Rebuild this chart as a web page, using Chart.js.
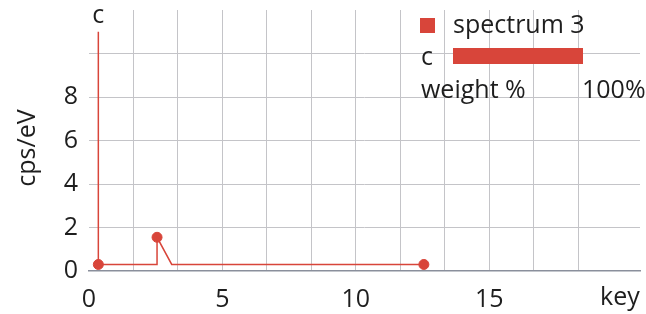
<!DOCTYPE html>
<html>
<head>
<meta charset="utf-8">
<script src="https://cdn.jsdelivr.net/npm/chart.js@4/dist/chart.umd.min.js"></script>
<style>
  html, body { margin: 0; padding: 0; background: #fff; }
  #wrap { width: 646px; height: 314px; position: relative; }
</style>
</head>
<body>
<div id="wrap"><canvas id="spectrum"></canvas></div>
<script>
// spectrum trace (keV vs cps/eV)
const energy = [0.35, 0.35, 0.35, 2.55, 2.55, 3.1, 12.55];
const counts = [0.3, 11, 0.3, 0.3, 1.55, 0.3, 0.3];

// marked points on the trace
const markerEnergy = [0.35, 2.55, 12.55];
const markerCounts = [0.3, 1.55, 0.3];

// peak labels
const peakNames = ["c"];
const peakEnergy = [0.35];
const peakCounts = [11];

// inset: element weight %
const elements = ["c"];
const weightPct = [100];
const spectrumName = "spectrum 3";

const xTickLabels = [0, 5, 10, 15];
const yTickLabels = [0, 2, 4, 6, 8];

const RED = "#d8453a";
const FONT = "'Open Sans', 'Noto Sans', sans-serif";
const TEXT = "#1e1e1e";
const GRID = "#c4c4c8";

function near(v, list) {
  return list.some((t) => Math.abs(v - t) < 1e-6);
}

const overlay = {
  id: "overlay",
  afterDatasetsDraw(chart) {
    const ctx = chart.ctx;
    const x = chart.scales.x;
    const y = chart.scales.y;
    ctx.save();
    ctx.fillStyle = TEXT;
    ctx.font = "25px " + FONT;

    // peak label
    ctx.textAlign = "center";
    ctx.textBaseline = "alphabetic";
    peakNames.forEach((n, i) => {
      ctx.fillText(n, x.getPixelForValue(peakEnergy[i]), y.getPixelForValue(peakCounts[i]) - 9);
    });

    // axis titles
    ctx.textAlign = "left";
    ctx.fillText("key", 600, 305);
    ctx.save();
    ctx.translate(28, 148);
    ctx.rotate(-Math.PI / 2);
    ctx.textAlign = "center";
    ctx.textBaseline = "middle";
    ctx.fillText("cps/eV", 0, 0);
    ctx.restore();

    // inset legend
    ctx.fillStyle = RED;
    ctx.fillRect(420, 18, 15, 15);
    ctx.fillStyle = TEXT;
    ctx.textAlign = "left";
    ctx.fillText(spectrumName, 453, 33);
    elements.forEach((el, i) => {
      const top = 48 + i * 30;
      ctx.fillStyle = TEXT;
      ctx.fillText(el, 421, top + 17);
      ctx.fillStyle = RED;
      ctx.fillRect(453, top, 130 * weightPct[i] / 100, 16);
    });
    ctx.fillStyle = TEXT;
    ctx.fillText("weight %", 421, 98);
    ctx.fillText("100%", 582, 98);
    ctx.restore();
  },
};

new Chart(document.getElementById("spectrum"), {
  type: "scatter",
  data: {
    datasets: [
      {
        data: energy.map((e, i) => ({ x: e, y: counts[i] })),
        showLine: true,
        borderColor: RED,
        borderWidth: 1.5,
        pointRadius: 0,
        tension: 0,
      },
      {
        data: markerEnergy.map((e, i) => ({ x: e, y: markerCounts[i] })),
        showLine: false,
        backgroundColor: RED,
        borderColor: RED,
        pointRadius: 5,
      },
    ],
  },
  options: {
    responsive: true,
    maintainAspectRatio: false,
    animation: false,
    layout: { padding: { top: 10, right: 3, left: 0, bottom: 0 } },
    plugins: { legend: { display: false }, tooltip: { enabled: false } },
    scales: {
      x: {
        type: "linear",
        min: 0,
        max: 20.65,
        afterFit: (s) => {
          s.height = 43;
          s.paddingLeft = 0;
          s.paddingRight = 0;
        },
        ticks: {
          stepSize: 5 / 3,
          padding: 14,
          color: TEXT,
          font: { size: 25, family: FONT },
          autoSkip: false,
          maxRotation: 0,
          callback: (v) => {
            const r = Math.round(v);
            return Math.abs(v - r) < 1e-6 && xTickLabels.includes(r) ? String(r) : "";
          },
        },
        grid: {
          drawTicks: false,
          color: (c) => {
            const v = c.tick.value;
            const k = v / (5 / 3);
            if (v < 1e-6 || Math.abs(k - Math.round(k)) > 1e-6) return "rgba(0,0,0,0)";
            return GRID;
          },
        },
        border: { display: true, color: "#8a8f9c", width: 1.5 },
      },
      y: {
        min: 0,
        max: 12,
        afterFit: (s) => {
          s.width = 89;
          s.paddingTop = 0;
          s.paddingBottom = 0;
        },
        ticks: {
          stepSize: 2,
          padding: 11,
          color: TEXT,
          font: { size: 25, family: FONT },
          callback: (v) => (near(v, yTickLabels) ? String(v) : ""),
        },
        grid: {
          drawTicks: false,
          color: (c) => (c.tick.value > 0 && c.tick.value <= 10 ? GRID : "rgba(0,0,0,0)"),
        },
        border: { display: false },
      },
    },
  },
  plugins: [overlay],
});
</script>
</body>
</html>
